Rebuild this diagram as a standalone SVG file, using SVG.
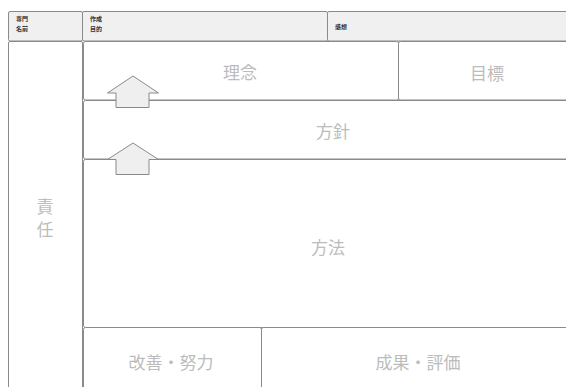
<svg xmlns="http://www.w3.org/2000/svg" width="566" height="387" viewBox="0 0 566 387">
<style>
.hdr{fill:#f0f0f0;stroke:#8a8a8a;stroke-width:1}
.box{fill:#ffffff;stroke:#8a8a8a;stroke-width:1}
.ht{font-family:"Noto Sans CJK JP","Noto Sans CJK SC",sans-serif;font-size:6px;fill:#333;font-weight:bold}
.lt{font-family:"Noto Sans CJK JP","Noto Sans CJK SC",sans-serif;font-size:17px;fill:#bcbcbc;text-anchor:middle;dominant-baseline:central}
.arr{fill:#efefef;stroke:#8a8a8a;stroke-width:1}
</style>
<rect width="566" height="387" fill="#ffffff"/>
<g id="header">
<rect class="hdr" x="8.5" y="11.5" width="74" height="29.5" rx="1.5"/>
<rect class="hdr" x="82.5" y="11.5" width="245" height="29.5" rx="1.5"/>
<rect class="hdr" x="327.5" y="11.5" width="250" height="29.5" rx="1.5"/>
<text class="ht" x="16" y="21">専門</text>
<text class="ht" x="16" y="30.5">名前</text>
<text class="ht" x="90" y="21">作成</text>
<text class="ht" x="90" y="30.5">目的</text>
<text class="ht" x="335" y="29">感想</text>
</g>
<g id="sekinin">
<rect class="box" x="8.5" y="41.5" width="74" height="360" rx="1.5"/>
<text class="lt" x="45" y="205">責</text>
<text class="lt" x="45" y="228">任</text>
</g>
<g id="rinen">
<rect class="box" x="83.5" y="41.5" width="315" height="58.5" rx="2"/>
<text class="lt" x="240" y="71">理念</text>
</g>
<g id="mokuhyo">
<rect class="box" x="398.5" y="41.5" width="180" height="58.5" rx="2"/>
<text class="lt" x="487" y="72">目標</text>
</g>
<g id="hoshin">
<rect class="box" x="83.5" y="100.5" width="495" height="58.5" rx="2"/>
<text class="lt" x="333" y="130">方針</text>
</g>
<g id="hoho">
<rect class="box" x="83.5" y="159.5" width="495" height="168" rx="2"/>
<text class="lt" x="328" y="246">方法</text>
</g>
<g id="kaizen">
<rect class="box" x="83.5" y="327.5" width="178" height="70" rx="2"/>
<text class="lt" x="171" y="361">改善・努力</text>
</g>
<g id="seika">
<rect class="box" x="261.5" y="327.5" width="317" height="70" rx="2"/>
<text class="lt" x="418" y="361">成果・評価</text>
</g>
<g id="connectors">
<polygon class="arr" points="133,76 158.5,93 149,93 149,107.5 116,107.5 116,93 107.5,93"/>
<polygon class="arr" points="133,143 158.5,159.5 149,159.5 149,174.5 116,174.5 116,159.5 107.5,159.5"/>
</g>
</svg>
